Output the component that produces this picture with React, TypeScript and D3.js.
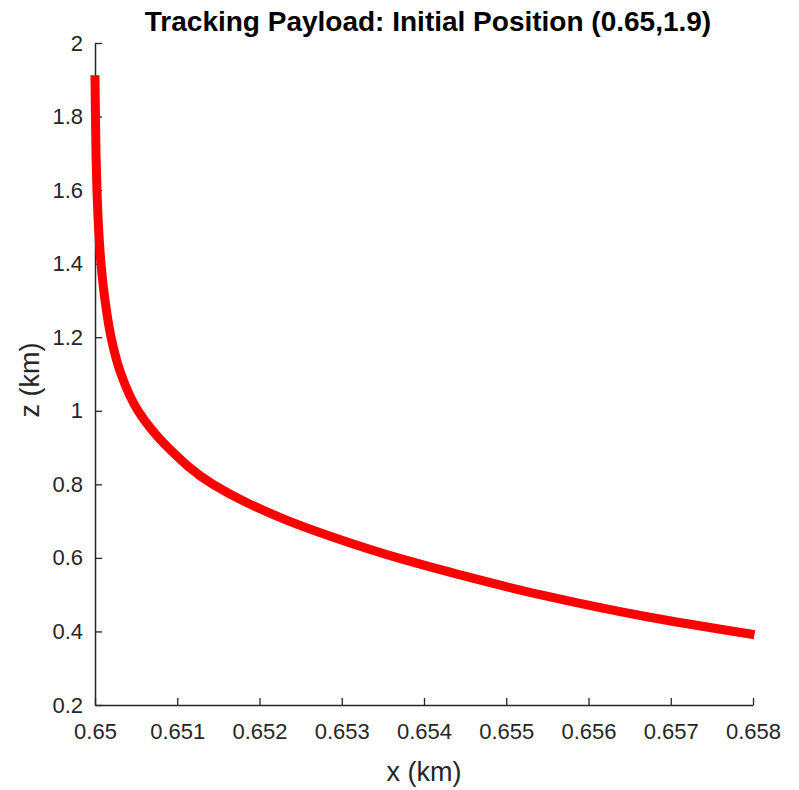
import { useEffect, useRef } from 'react'
import * as d3 from 'd3'

// trajectory (z descending from the start point)
const zValues = [1.9, 1.8, 1.7, 1.6, 1.5, 1.4, 1.3, 1.2, 1.1, 1.0, 0.9, 0.8, 0.75, 0.7, 0.64, 0.6, 0.554, 0.5, 0.44, 0.393]
const xValues = [0.65, 0.650006, 0.650012, 0.650024, 0.650043, 0.650073, 0.650122, 0.650195, 0.650316, 0.650523, 0.650888, 0.651435, 0.651848, 0.652359, 0.653112, 0.653684, 0.654438, 0.65541, 0.656711, 0.657964]

const xTicks = [0.65, 0.651, 0.652, 0.653, 0.654, 0.655, 0.656, 0.657, 0.658]
const yTicks = [0.2, 0.4, 0.6, 0.8, 1, 1.2, 1.4, 1.6, 1.8, 2]

const width = 799
const height = 790
const margin = { top: 43, right: 46, bottom: 85, left: 95 }
const axisColor = '#262626'
const font = '"Liberation Sans", Arial, Helvetica, sans-serif'

export default function App() {
  const svgRef = useRef<SVGSVGElement>(null)

  useEffect(() => {
    if (!svgRef.current) return
    const svg = d3.select(svgRef.current)
    svg.selectAll('*').remove()

    const x = d3.scaleLinear()
      .domain([0.65, 0.658])
      .range([margin.left, width - margin.right])
    const y = d3.scaleLinear()
      .domain([0.2, 2])
      .range([height - margin.bottom, margin.top])

    const data = xValues.map((v, i) => ({ x: v, z: zValues[i] }))

    // x axis (ticks point inward)
    const xAxis = svg.append('g')
      .attr('transform', `translate(0,${height - margin.bottom})`)
      .call(d3.axisBottom(x).tickValues(xTicks).tickSizeInner(-7).tickSizeOuter(0).tickPadding(18).tickFormat(d => String(d)))
    xAxis.select('.domain').attr('stroke', axisColor).attr('stroke-width', 1.5)
    xAxis.selectAll('.tick line').attr('stroke', axisColor).attr('stroke-width', 1.3)
    xAxis.selectAll('.tick text')
      .attr('fill', axisColor)
      .attr('font-size', 22)
      .attr('font-family', font)

    // y axis
    const yAxis = svg.append('g')
      .attr('transform', `translate(${margin.left},0)`)
      .call(d3.axisLeft(y).tickValues(yTicks).tickSizeInner(-7).tickSizeOuter(0).tickPadding(12).tickFormat(d => String(d)))
    yAxis.select('.domain').attr('stroke', axisColor).attr('stroke-width', 1.5)
    yAxis.selectAll('.tick line').attr('stroke', axisColor).attr('stroke-width', 1.3)
    yAxis.selectAll('.tick text')
      .attr('fill', axisColor)
      .attr('font-size', 22)
      .attr('font-family', font)

    // trajectory
    const line = d3.line<{ x: number; z: number }>()
      .x(d => x(d.x))
      .y(d => y(d.z))
      .curve(d3.curveMonotoneY)

    svg.append('path')
      .datum(data)
      .attr('d', line)
      .attr('fill', 'none')
      .attr('stroke', '#ff0000')
      .attr('stroke-width', 9)
      .attr('stroke-linecap', 'square')
      .attr('stroke-linejoin', 'round')

    // title
    svg.append('text')
      .attr('x', 428)
      .attr('y', 31)
      .attr('text-anchor', 'middle')
      .attr('font-family', font)
      .attr('font-size', 28)
      .attr('font-weight', 'bold')
      .attr('fill', '#000')
      .text('Tracking Payload: Initial Position (0.65,1.9)')

    // axis labels
    svg.append('text')
      .attr('x', (margin.left + width - margin.right) / 2)
      .attr('y', 781)
      .attr('text-anchor', 'middle')
      .attr('font-family', font)
      .attr('font-size', 27)
      .attr('fill', axisColor)
      .text('x (km)')

    svg.append('text')
      .attr('transform', `translate(39,380) rotate(-90)`)
      .attr('text-anchor', 'middle')
      .attr('font-family', font)
      .attr('font-size', 27)
      .attr('fill', axisColor)
      .text('z (km)')
  }, [])

  return (
    <svg
      ref={svgRef}
      width={width}
      height={height}
      style={{ position: 'absolute', left: 0, top: 0, background: '#fff' }}
    />
  )
}
